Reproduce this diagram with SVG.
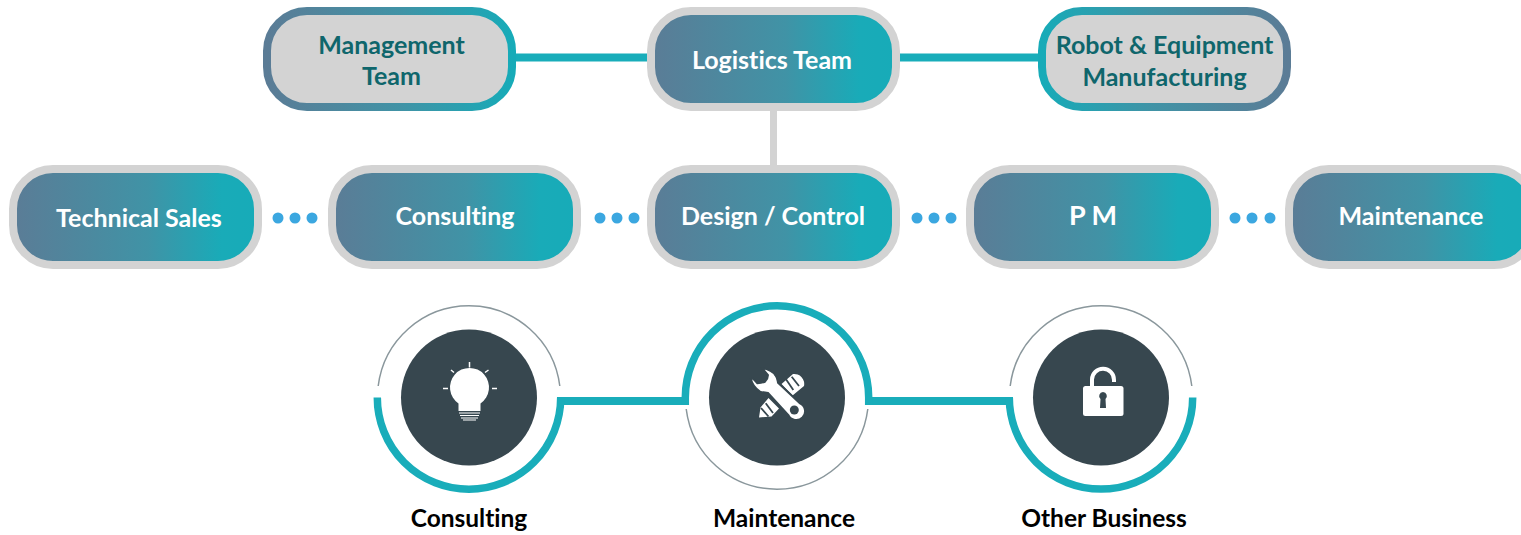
<svg xmlns="http://www.w3.org/2000/svg" width="1521" height="535" viewBox="0 0 1521 535">
<style>
text{font-family:Lato,"Open Sans","Liberation Sans",sans-serif;font-weight:700;text-anchor:middle;font-variant-ligatures:none}
.w{fill:#fff;font-size:25px}
.t{fill:#0f666c;font-size:25px}
.b{fill:#000;font-size:24.500px}
.pill{stroke:#d3d3d3;stroke-width:8;fill:url(#g)}
.dot{fill:#3ba7e0}
.teal{fill:none;stroke:#19adba;stroke-width:7.5}
.gray{fill:none;stroke:#8a979c;stroke-width:1.5}
.dark{fill:#37474f}
.line{fill:none;stroke:#19adba;stroke-width:8}
.ray{stroke:#fff;stroke-width:1.5;fill:none}
</style>
<defs>
<linearGradient id="g" x1="0" y1="0" x2="1" y2="0"><stop offset="0" stop-color="#5b7c96"/><stop offset="0.55" stop-color="#4093a6"/><stop offset="0.85" stop-color="#19abb8"/><stop offset="1" stop-color="#17abb8"/></linearGradient>
<linearGradient id="gl" x1="0" y1="0" x2="1" y2="0"><stop offset="0" stop-color="#5b7c96"/><stop offset="0.55" stop-color="#4093a6"/><stop offset="1" stop-color="#17abb8"/></linearGradient>
<linearGradient id="gr" x1="1" y1="0" x2="0" y2="0"><stop offset="0" stop-color="#5b7c96"/><stop offset="0.55" stop-color="#4093a6"/><stop offset="1" stop-color="#17abb8"/></linearGradient>
</defs>
<g id="connectors">
<path class="line" d="M516 57.500H647M900 57.500H1038"/>
<path d="M773.500 111V165" fill="none" stroke="#d3d3d3" stroke-width="7"/>
<path class="line" d="M557 401H689M865 401H1013"/>
</g>
<g id="node-management"><rect x="267" y="11" width="245" height="96" rx="40" fill="#d3d3d3" stroke="url(#gl)" stroke-width="8"/><text class="t" x="391.500" y="54">Management</text><text class="t" x="391.500" y="85">Team</text></g>
<g id="node-logistics"><rect class="pill" x="651" y="11" width="245" height="96" rx="40"/><text class="w" x="772" y="69">Logistics Team</text></g>
<g id="node-robot"><rect x="1042" y="11" width="245" height="96" rx="40" fill="#d3d3d3" stroke="url(#gr)" stroke-width="8"/><text class="t" x="1164.500" y="54">Robot &amp; Equipment</text><text class="t" x="1164.500" y="86">Manufacturing</text></g>
<g id="node-technical-sales"><rect class="pill" x="13" y="169" width="245" height="96" rx="40"/><text class="w" x="139" y="227">Technical Sales</text></g>
<g id="node-consulting"><rect class="pill" x="332" y="169" width="245" height="96" rx="40"/><text class="w" x="455" y="225">Consulting</text></g>
<g id="node-design"><rect class="pill" x="651" y="169" width="245" height="96" rx="40"/><text class="w" x="773" y="225">Design / Control</text></g>
<g id="node-pm"><rect class="pill" x="970" y="169" width="245" height="96" rx="40"/><text class="w" x="1093" y="225" style="font-size:27px">P M</text></g>
<g id="node-maintenance"><rect class="pill" x="1289" y="169" width="245" height="96" rx="40"/><text class="w" x="1411" y="225">Maintenance</text></g>
<g id="dots-1"><circle class="dot" cx="278" cy="218" r="5.500"/><circle class="dot" cx="295" cy="218" r="5.500"/><circle class="dot" cx="312" cy="218" r="5.500"/></g>
<g id="dots-2"><circle class="dot" cx="600" cy="218" r="5.500"/><circle class="dot" cx="617" cy="218" r="5.500"/><circle class="dot" cx="634" cy="218" r="5.500"/></g>
<g id="dots-3"><circle class="dot" cx="917" cy="218" r="5.500"/><circle class="dot" cx="934" cy="218" r="5.500"/><circle class="dot" cx="951" cy="218" r="5.500"/></g>
<g id="dots-4"><circle class="dot" cx="1235" cy="218" r="5.500"/><circle class="dot" cx="1252" cy="218" r="5.500"/><circle class="dot" cx="1270" cy="218" r="5.500"/></g>
<g id="node-circle-consulting">
<path class="gray" d="M378.200 386A91.500 91.500 0 0 1 559.800 386"/>
<path class="teal" d="M377.300 397.500A91.700 91.700 0 0 0 560.700 397.500"/>
<circle class="dark" cx="469" cy="397.500" r="68"/>
<path fill="#fff" d="M458.500 411V403.500A19.500 19.500 0 1 1 480.500 403.500V411Z"/>
<path class="ray" d="M469.500 362V367.500M443 388.500H448M492 388.500H497M451 370L454 372.500M488.500 370L485 372.500"/>
<path d="M459 413H480M460 415.500H479M461 418H478M463 420H476" stroke="#fff" stroke-width="1.200" fill="none"/>
<text class="b" x="469" y="527">Consulting</text>
</g>
<g id="node-circle-maintenance">
<path class="teal" d="M685.300 405V397.500A91.700 91.700 0 0 1 868.700 397.500V405"/>
<path class="gray" d="M686.200 409A91.500 91.500 0 0 0 867.800 409"/>
<circle class="dark" cx="777" cy="397.500" r="68"/>
<path fill="#fff" d="M781.500 384L793 374A10 10 0 0 1 804 386L792.500 395.500ZM759 417.500L760.500 407.500L768.500 398L779 408.500L771.500 416.500Z"/>
<path d="M786 379.300L793.300 390M791.700 376.700L799 386M765.700 403.300L773 413M761 408L768.500 416.500" stroke="#37474f" stroke-width="1.800" fill="none"/>
<path fill="#fff" stroke="#37474f" stroke-width="2" d="M762.300 368.300C768 369 774 372 775.500 375.500C777.500 378 777.500 380 778 382.700L800 403.300A8.800 8.800 0 1 1 788.300 415L768 393C765 392.500 763 392.500 760 391.700C756 389 752 384 751 379.300L752.800 378.300L757.300 383.300C760 383 763 382.500 765 381.700C767 379.500 768 377 768 375Z"/>
<circle class="dark" cx="794.300" cy="410" r="4.500"/>
<text class="b" x="784" y="527">Maintenance</text>
</g>
<g id="node-circle-other">
<path class="gray" d="M1010.200 386A91.500 91.500 0 0 1 1191.800 386"/>
<path class="teal" d="M1009.300 397.500A91.700 91.700 0 0 0 1192.700 397.500"/>
<circle class="dark" cx="1101" cy="397.500" r="68"/>
<path d="M1092 387V379.500A11 11 0 0 1 1114 380V382" fill="none" stroke="#fff" stroke-width="4"/>
<rect x="1083" y="386" width="40.500" height="30" rx="2.500" fill="#fff"/>
<path class="dark" d="M1103 392A4 4 0 0 1 1105.500 399L1106 408H1100L1100.500 399A4 4 0 0 1 1103 392Z"/>
<text class="b" x="1104" y="527">Other Business</text>
</g>
</svg>
